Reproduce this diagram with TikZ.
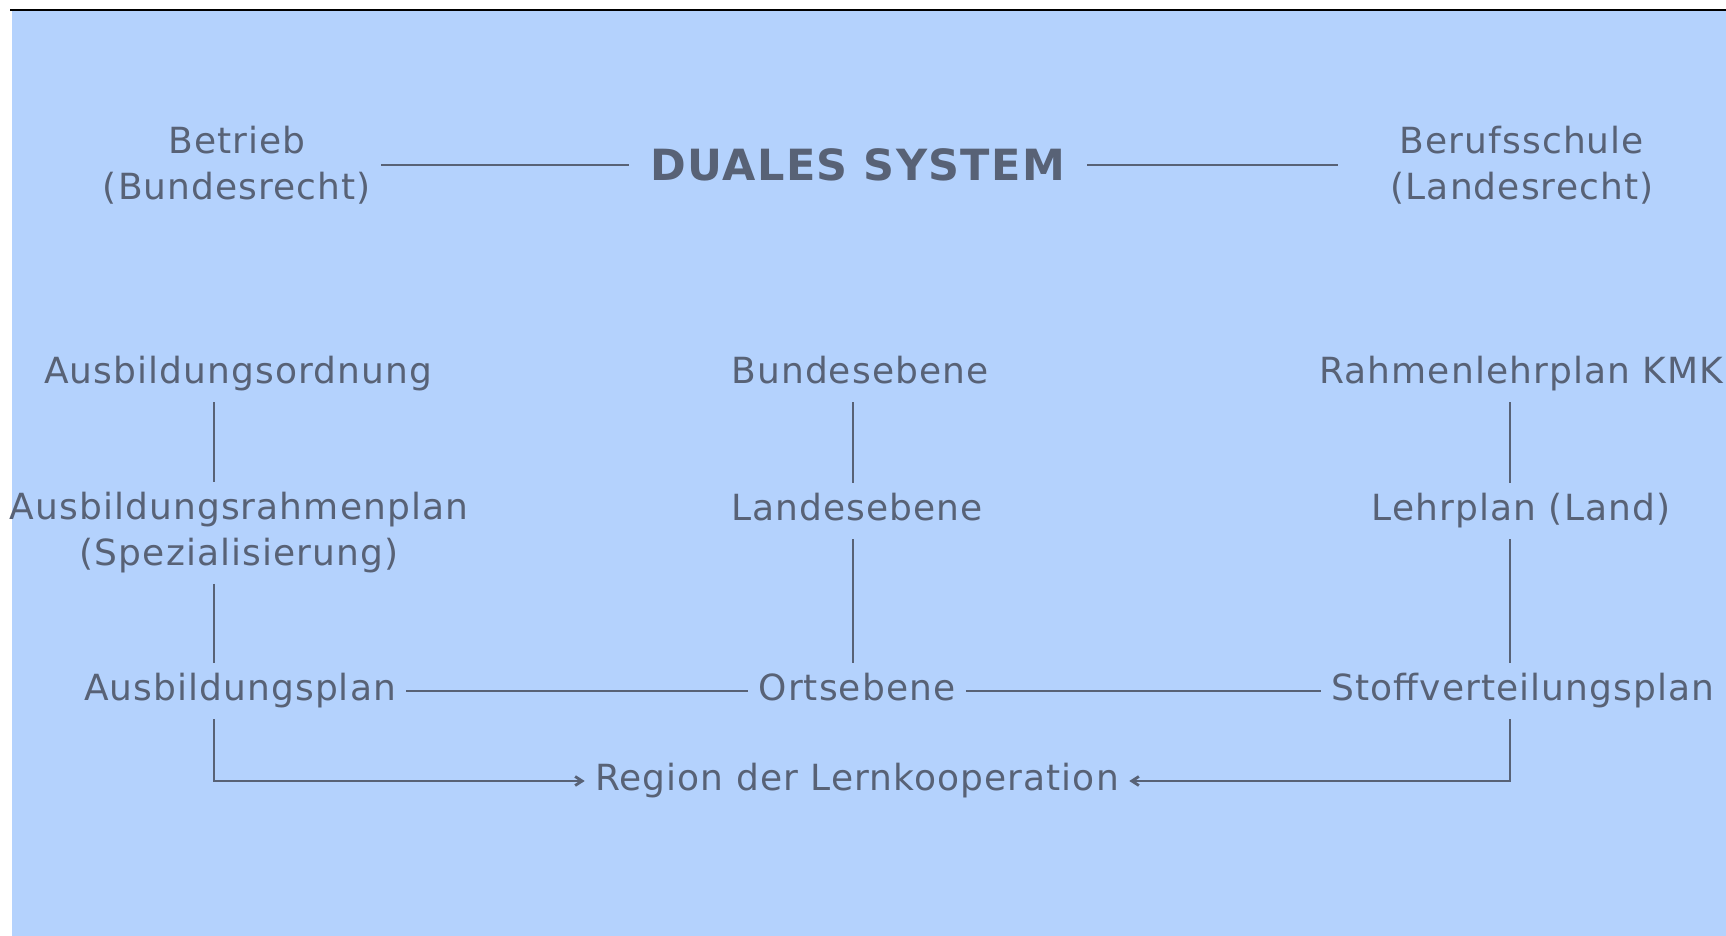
\documentclass[tikz,border=0pt]{standalone}
\usepackage{fontspec}
\setmainfont{DejaVu Sans}[LetterSpace=3]
\usetikzlibrary{arrows.meta}
\definecolor{dualblau}{RGB}{180,210,253}
\definecolor{dualgrau}{RGB}{88,98,118}

\begin{document}
\begin{tikzpicture}[
  x=0.5pt, y=-0.5pt,
  every node/.style={font=\fontsize{18}{23}\selectfont, text=dualgrau,
    inner xsep=5pt, inner ysep=5pt},
  ebene/.style={text height=13.7pt, text depth=4.3pt},
  zweizeilig/.style={align=center},
  titel/.style={font=\fontsize{21.5}{27}\selectfont\bfseries, inner xsep=11pt},
  linie/.style={draw=dualgrau, line width=1.4pt},
  pfeil/.style={linie, -{Straight Barb[length=3.5pt, width=4.5pt]}}
]

  % Hintergrund und Rahmenlinie oben
  \useasboundingbox (0,0) rectangle (1726,936);
  \fill[white] (0,0) rectangle (1726,936);
  \fill[dualblau] (12,11) rectangle (1726,936);
  \draw[black, line width=1.3pt] (10,10) -- (1726,10);

  % Spalten fuer die senkrechten Linien
  \coordinate (spalteL) at (214,0);
  \coordinate (spalteM) at (853,0);
  \coordinate (spalteR) at (1510,0);

  % Kopfzeile
  \node[titel] (duales) at (858,165) {DUALES SYSTEM};
  \node[zweizeilig] (betrieb) at (237,165) {Betrieb\\(Bundesrecht)};
  \node[zweizeilig] (schule) at (1522,165) {Berufsschule\\(Landesrecht)};

  % Bundesebene
  \node[ebene] (ordnung) at (238,374) {Ausbildungsordnung};
  \node[ebene] (bund) at (860,374) {Bundesebene};
  \node[ebene, anchor=west] (rahmenlp) at (1309,374) {Rahmenlehrplan KMK};

  % Landesebene
  \node[zweizeilig] (ausbrahmen) at (239,533) {Ausbildungsrahmenplan\\(Spezialisierung)};
  \node[ebene] (land) at (857,511) {Landesebene};
  \node[ebene] (lehrplan) at (1521,511) {Lehrplan (Land)};

  % Ortsebene
  \node[ebene] (ausbplan) at (240,691) {Ausbildungsplan};
  \node[ebene] (ort) at (857,691) {Ortsebene};
  \node[ebene] (stoff) at (1523,691) {Stoffverteilungsplan};

  \node[ebene] (region) at (857,781) {Region der Lernkooperation};

  % Verbindungen Kopfzeile
  \draw[linie] (betrieb.east) -- (duales.west);
  \draw[linie, shorten >=21pt] (duales.east) -- (schule.west);

  % Senkrechte Linien
  \draw[linie] (ordnung.south -| spalteL) -- (ausbrahmen.north -| spalteL);
  \draw[linie] (ausbrahmen.south -| spalteL) -- (ausbplan.north -| spalteL);
  \draw[linie] (bund.south -| spalteM) -- (land.north -| spalteM);
  \draw[linie] (land.south -| spalteM) -- (ort.north -| spalteM);
  \draw[linie] (rahmenlp.south -| spalteR) -- (lehrplan.north -| spalteR);
  \draw[linie] (lehrplan.south -| spalteR) -- (stoff.north -| spalteR);

  % Waagerechte Linien Ortsebene
  \draw[linie] (ausbplan.east) -- (ort.west);
  \draw[linie] (ort.east) -- (stoff.west);

  % Pfeile zur Lernkooperation
  \draw[pfeil] (ausbplan.south -| spalteL) |- (region.west);
  \draw[pfeil] (stoff.south -| spalteR) |- (region.east);

\end{tikzpicture}
\end{document}
